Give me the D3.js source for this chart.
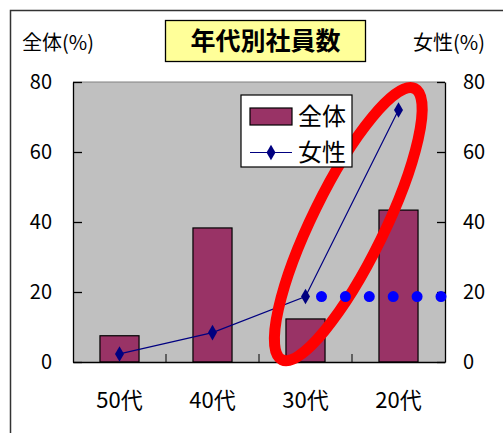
<!DOCTYPE html>
<html>
<head>
<meta charset="utf-8">
<script src="https://cdn.jsdelivr.net/npm/d3@7"></script>
<style>
  body { margin: 0; background: #fff; }
  text { font-family: "Noto Sans CJK JP", "Noto Sans", sans-serif; fill: #000; }
</style>
</head>
<body>
<div class="chart"></div>
<script>
const categories = ["50代", "40代", "30代", "20代"];
const totalPct = [7.5, 38.3, 12.3, 43.4];   // 全体 (bars, left axis)
const femalePct = [2.3, 8.4, 18.7, 72];     // 女性 (line, right axis)
const yTicks = [0, 20, 40, 60, 80];
const highlightIndex = 2;                   // 30代 reference level

const W = 503, H = 433;
const plot = { left: 73, right: 445, top: 82, bottom: 362 };

const svg = d3.select(".chart").append("svg")
    .attr("width", W)
    .attr("height", H);

// outer frame (cut off at right / bottom)
svg.append("rect")
    .attr("x", 10.5).attr("y", 10.5)
    .attr("width", 600).attr("height", 600)
    .attr("fill", "none")
    .attr("stroke", "#333")
    .attr("stroke-width", 1.5);

const x = d3.scaleBand()
    .domain(categories)
    .range([plot.left, plot.right])
    .padding(0);
const yLeft = d3.scaleLinear().domain([0, 80]).range([plot.bottom, plot.top]);
const yRight = d3.scaleLinear().domain([0, 80]).range([plot.bottom, plot.top]);
const center = c => x(c) + x.bandwidth() / 2;
const barW = x.bandwidth() * 0.42;

// plot background
svg.append("rect")
    .attr("x", plot.left).attr("y", plot.top)
    .attr("width", plot.right - plot.left)
    .attr("height", plot.bottom - plot.top)
    .attr("fill", "#c0c0c0");
svg.append("line")
    .attr("x1", plot.left).attr("x2", plot.right)
    .attr("y1", plot.top).attr("y2", plot.top)
    .attr("stroke", "#808080");

// bars
svg.append("g").selectAll("rect")
    .data(categories)
    .join("rect")
    .attr("x", (d) => center(d) - barW / 2)
    .attr("y", (d, i) => yLeft(totalPct[i]))
    .attr("width", barW)
    .attr("height", (d, i) => plot.bottom - yLeft(totalPct[i]))
    .attr("fill", "#993366")
    .attr("stroke", "#000")
    .attr("stroke-width", 1.2);

// axes
const leftAxis = svg.append("g")
    .attr("transform", `translate(${plot.left},0)`)
    .call(d3.axisLeft(yLeft).tickValues(yTicks).tickSizeInner(-9).tickSizeOuter(0).tickPadding(21));
const rightAxis = svg.append("g")
    .attr("transform", `translate(${plot.right},0)`)
    .call(d3.axisRight(yRight).tickValues(yTicks).tickSizeInner(-8).tickSizeOuter(0).tickPadding(18));
const bottomAxis = svg.append("g")
    .attr("transform", `translate(0,${plot.bottom})`)
    .call(d3.axisBottom(x).tickSize(0).tickPadding(30));

// category boundary ticks
bottomAxis.append("g").selectAll("line")
    .data(categories.slice(1))
    .join("line")
    .attr("x1", (d) => x(d)).attr("x2", (d) => x(d))
    .attr("y1", 0).attr("y2", -8)
    .attr("stroke", "#000");

[leftAxis, rightAxis, bottomAxis].forEach(g => {
    g.selectAll(".domain, .tick line").attr("stroke", "#000").attr("stroke-width", 1.3);
    g.selectAll(".tick text")
        .attr("font-size", 20)
        .attr("font-family", "'Noto Sans CJK JP', sans-serif")
        .attr("fill", "#222");
});
bottomAxis.selectAll(".tick text").attr("font-size", 22);

// 女性 line
const line = d3.line()
    .x((d, i) => center(categories[i]))
    .y((d) => yRight(d));
svg.append("path")
    .datum(femalePct)
    .attr("d", line)
    .attr("fill", "none")
    .attr("stroke", "#000080")
    .attr("stroke-width", 1.2);
const diamond = d3.symbol().type(d3.symbolDiamond).size(70);
svg.append("g").selectAll("path")
    .data(femalePct)
    .join("path")
    .attr("d", diamond)
    .attr("transform", (d, i) => `translate(${center(categories[i])},${yRight(d)})`)
    .attr("fill", "#000080");

// red highlight ellipse around the 30代 -> 20代 rise
const ex = center(categories[2]) + x.step() * 0.46;
const ey = yRight(39.4);
svg.append("ellipse")
    .attr("cx", 0).attr("cy", 0)
    .attr("rx", 151).attr("ry", 36)
    .attr("transform", `translate(${ex},${ey}) rotate(-63.9)`)
    .attr("fill", "none")
    .attr("stroke", "#ff0000")
    .attr("stroke-width", 11);

// blue dotted level of 女性 30代
const hy = yRight(femalePct[highlightIndex]);
svg.append("line")
    .attr("x1", center(categories[highlightIndex]) + 16)
    .attr("x2", plot.right)
    .attr("y1", hy).attr("y2", hy)
    .attr("stroke", "#0000ff")
    .attr("stroke-width", 11)
    .attr("stroke-linecap", "round")
    .attr("stroke-dasharray", "0 23.9");

// legend
const legend = svg.append("g").attr("transform", "translate(241,95)");
legend.append("rect")
    .attr("width", 111).attr("height", 72)
    .attr("fill", "#fff")
    .attr("stroke", "#000")
    .attr("stroke-width", 1.2);
legend.append("rect")
    .attr("x", 9).attr("y", 13)
    .attr("width", 42).attr("height", 17)
    .attr("fill", "#993366")
    .attr("stroke", "#000")
    .attr("stroke-width", 1.2);
legend.append("line")
    .attr("x1", 9).attr("x2", 51)
    .attr("y1", 57.5).attr("y2", 57.5)
    .attr("stroke", "#000080")
    .attr("stroke-width", 1.2);
legend.append("path")
    .attr("d", diamond)
    .attr("transform", "translate(30,57.5)")
    .attr("fill", "#000080");
legend.selectAll("text.lbl")
    .data(["全体", "女性"])
    .join("text")
    .attr("class", "lbl")
    .attr("x", 57)
    .attr("y", (d, i) => 21.5 + i * 36)
    .attr("dy", "0.36em")
    .attr("font-size", 24)
    .text(d => d);

// title
svg.append("rect")
    .attr("x", 165.5).attr("y", 20.5)
    .attr("width", 200).attr("height", 41)
    .attr("fill", "#ffff99")
    .attr("stroke", "#000")
    .attr("stroke-width", 1.3);
svg.append("text")
    .attr("x", 265.5).attr("y", 41)
    .attr("dy", "0.36em")
    .attr("text-anchor", "middle")
    .attr("font-size", 25)
    .attr("font-weight", "bold")
    .text("年代別社員数");

// axis titles
svg.append("text")
    .attr("x", 22).attr("y", 43)
    .attr("dy", "0.36em")
    .attr("font-size", 20)
    .text("全体(%)");
svg.append("text")
    .attr("x", 413).attr("y", 43)
    .attr("dy", "0.36em")
    .attr("font-size", 20)
    .text("女性(%)");
</script>
</body>
</html>
